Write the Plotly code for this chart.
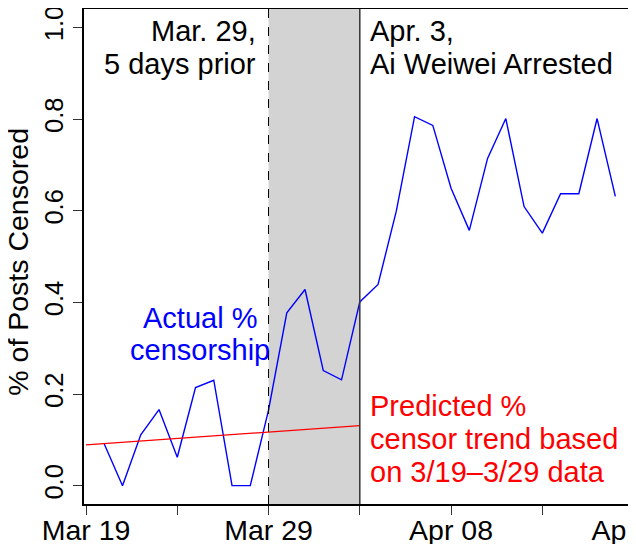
import pandas as pd
import plotly.graph_objects as go

# ---- data ----
dates = pd.date_range("2011-03-20", "2011-04-17", freq="D")
pct_censored = [0.091, 0.0, 0.111, 0.166, 0.062, 0.214, 0.230, 0.0, 0.0, 0.165,
                0.377, 0.428, 0.251, 0.231, 0.401, 0.439, 0.599, 0.805, 0.786,
                0.649, 0.557, 0.714, 0.801, 0.609, 0.551, 0.637, 0.637, 0.801, 0.631]
trend_dates = ["2011-03-19", "2011-04-03"]
trend_values = [0.089, 0.131]
tick_dates = ["2011-03-19", "2011-03-24", "2011-03-29", "2011-04-03",
              "2011-04-08", "2011-04-13", "2011-04-18"]
tick_labels = ["Mar 19", "", "Mar 29", "", "Apr 08", "", "Apr 18"]
y_ticks = [0.0, 0.2, 0.4, 0.6, 0.8, 1.0]
event_prior = "2011-03-29"
event_arrest = "2011-04-03"

FONT = "Liberation Sans, Arial, Helvetica, sans-serif"
FS = 28.5
FS_ANN = 29
FS_Y = 25.5

fig = go.Figure()
fig.add_trace(go.Scatter(x=dates, y=pct_censored, mode="lines",
                         line=dict(color="#0000FF", width=1.4), showlegend=False))
fig.add_trace(go.Scatter(x=trend_dates, y=trend_values, mode="lines",
                         line=dict(color="#FF0000", width=1.2), showlegend=False))

# shaded window and event lines
fig.add_shape(type="rect", xref="x", yref="paper", x0=event_prior, x1=event_arrest,
              y0=0, y1=1, fillcolor="#D3D3D3", line_width=0, layer="below")
fig.add_shape(type="line", xref="x", yref="paper", x0=event_prior, x1=event_prior,
              y0=0, y1=1, line=dict(color="black", width=1, dash="dash"))
fig.add_shape(type="line", xref="x", yref="paper", x0=event_arrest, x1=event_arrest,
              y0=0, y1=1, line=dict(color="#333333", width=1.5))

def ann(text, x, y, xanchor, color="black", xshift=0):
    fig.add_annotation(text=text, x=x, y=y, xref="x", yref="y", xanchor=xanchor,
                       yanchor="middle", showarrow=False, xshift=xshift,
                       font=dict(family=FONT, size=FS_ANN, color=color))

ann("Mar. 29,", event_prior, 0.992, "right", xshift=-11)
ann("5 days prior", event_prior, 0.919, "right", xshift=-11)
ann("Apr. 3,", event_arrest, 0.992, "left", xshift=8)
ann("Ai Weiwei Arrested", event_arrest, 0.919, "left", xshift=8)
ann("Actual %", "2011-03-25 06:00", 0.365, "center", color="#0000FF")
ann("censorship", "2011-03-25 06:00", 0.296, "center", color="#0000FF")
ann("Predicted %", event_arrest, 0.173, "left", color="#FF0000", xshift=8)
ann("censor trend based", event_arrest, 0.101, "left", color="#FF0000", xshift=8)
ann("on 3/19\u20133/29 data", event_arrest, 0.029, "left", color="#FF0000", xshift=8)

# y-axis title
fig.add_annotation(text="% of Posts Censored", x=-0.12, y=0.489, xref="paper", yref="paper",
                   xanchor="center", yanchor="middle", textangle=-90, showarrow=False,
                   font=dict(family=FONT, size=FS, color="black"))

# page body has an 8px margin: figure is sized/offset so the plot lands where the reference has it
fig.update_layout(
    width=628, height=536,
    margin=dict(l=76, r=0, t=1, b=40),
    paper_bgcolor="white", plot_bgcolor="white",
    font=dict(family=FONT, size=FS, color="black"),
    xaxis=dict(type="date", range=["2011-03-18 21:22", "2011-04-18 03:10"],
               tickvals=tick_dates, ticktext=tick_labels, ticks="outside",
               ticklen=9, tickwidth=1, tickcolor="#333333",
               showline=True, linecolor="black", linewidth=1.5, mirror=True,
               showgrid=False, zeroline=False, automargin=False,
               ticklabeloverflow="allow", ticklabelstandoff=-9,
               tickfont=dict(size=FS)),
    yaxis=dict(range=[-0.04, 1.04], tickvals=y_ticks, tickformat=".1f",
               ticks="outside", ticklen=9, tickwidth=1, tickcolor="#333333",
               tickangle=-90, showline=True, linecolor="black", linewidth=1.5,
               mirror=True, showgrid=False, zeroline=False, automargin=False,
               ticklabeloverflow="allow", ticklabelstandoff=0,
               tickfont=dict(size=FS_Y)),
)

fig.write_html("out.html")
